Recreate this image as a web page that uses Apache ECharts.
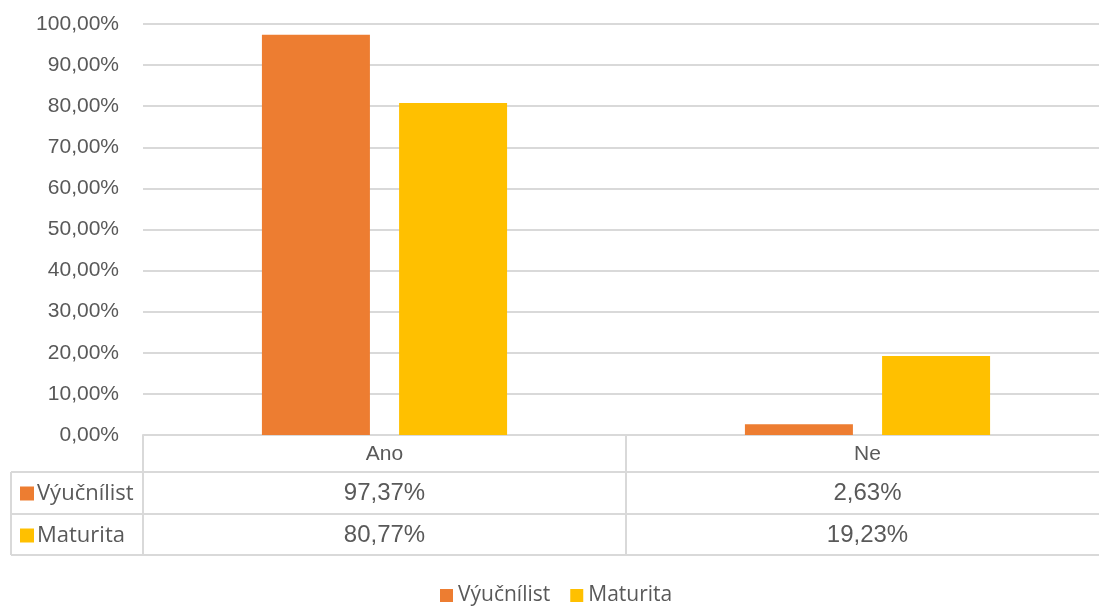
<!DOCTYPE html>
<html>
<head>
<meta charset="utf-8">
<script src="https://cdn.jsdelivr.net/npm/echarts@6/dist/echarts.min.js"></script>
<style>
  html, body { margin: 0; padding: 0; background: #fff; }
  #chart { width: 1099px; height: 606px; }
</style>
</head>
<body>
<div id="chart"></div>
<script>
// data
var categories = ["Ano", "Ne"];
var seriesNames = ["Výučnílist", "Maturita"];
var vyucnilist = [97.37, 2.63];
var maturita = [80.77, 19.23];
var colors = ["#ED7D31", "#FFC000"];

var textColor = "#595959";
var lineColor = "#d9d9d9";
var numFont = "'Liberation Sans', Arial, sans-serif";
var nameFont = "'Open Sans', 'Noto Sans', sans-serif";

function fmt(v) {
  return v.toFixed(2).replace(".", ",") + "%";
}

var chart = echarts.init(document.getElementById("chart"));

var option = {
  animation: false,
  color: colors,
  grid: {
    left: 143,
    top: 24,
    width: 966, // last column runs a bit past the picture edge
    height: 411,
    outerBoundsMode: "none",
    containLabel: false,
  },
  legend: {
    bottom: -5,
    left: 435,
    icon: "rect",
    itemWidth: 13,
    itemHeight: 13,
    itemGap: 20,
    textStyle: {
      color: textColor,
      fontSize: 21,
      fontFamily: nameFont,
    },
    data: seriesNames,
  },
  xAxis: {
    type: "category",
    data: categories,
    axisLine: { show: true, lineStyle: { color: lineColor, width: 2 } },
    // long ticks = vertical lines of the data table
    axisTick: {
      show: true,
      length: 120,
      lineStyle: { color: lineColor, width: 2 },
    },
    axisLabel: {
      color: textColor,
      fontSize: 21,
      fontFamily: numFont,
      margin: 9,
    },
  },
  yAxis: {
    type: "value",
    min: 0,
    max: 100,
    interval: 10,
    axisLine: { show: false },
    axisTick: { show: false },
    splitLine: { lineStyle: { color: lineColor, width: 2 } },
    axisLabel: {
      color: textColor,
      fontSize: 21,
      fontFamily: numFont,
      margin: 24,
      formatter: function (v) {
        return fmt(v);
      },
    },
  },
  series: [
    {
      name: seriesNames[0],
      type: "bar",
      data: vyucnilist,
      barWidth: 108,
      barGap: "27%",
    },
    {
      name: seriesNames[1],
      type: "bar",
      data: maturita,
      barWidth: 108,
      barGap: "27%",
    },
  ],
};

chart.setOption(option);

// data table under the axis
var rows = [vyucnilist, maturita];
var rowTop = [472, 514];
var rowH = 41;
var graphics = [];
// horizontal lines
[472, 514, 555].forEach(function (y) {
  graphics.push({
    type: "line",
    shape: { x1: 11, y1: y, x2: 1099, y2: y },
    style: { stroke: lineColor, lineWidth: 2 },
  });
});
// left border
graphics.push({
  type: "line",
  shape: { x1: 11, y1: 472, x2: 11, y2: 555 },
  style: { stroke: lineColor, lineWidth: 2 },
});
rows.forEach(function (vals, r) {
  var cy = rowTop[r] + rowH / 2 + 1;
  graphics.push({
    type: "rect",
    shape: { x: 20, y: cy - 7, width: 14, height: 14 },
    style: { fill: colors[r] },
  });
  graphics.push({
    type: "text",
    x: 37,
    y: cy,
    style: {
      text: seriesNames[r],
      fill: textColor,
      fontSize: 22,
      fontFamily: nameFont,
      verticalAlign: "middle",
    },
  });
  vals.forEach(function (v, c) {
    var px = chart.convertToPixel({ xAxisIndex: 0 }, categories[c]);
    graphics.push({
      type: "text",
      x: px,
      y: cy,
      style: {
        text: fmt(v),
        fill: textColor,
        fontSize: 24,
        fontFamily: numFont,
        align: "center",
        verticalAlign: "middle",
      },
    });
  });
});

chart.setOption({ graphic: graphics });
</script>
</body>
</html>
